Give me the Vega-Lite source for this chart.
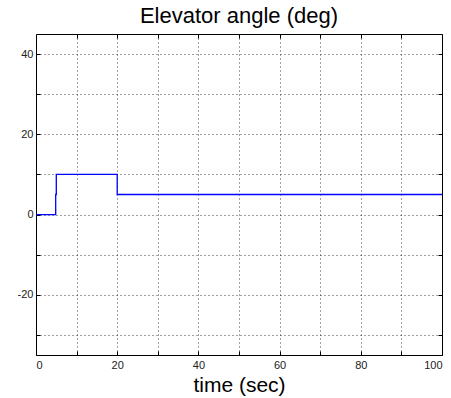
{
  "$schema": "https://vega.github.io/schema/vega-lite/v6.json",
  "autosize": {"type": "none"},
  "padding": {"left": 36, "top": 34, "right": 9, "bottom": 43},
  "width": 406,
  "height": 321,
  "background": "white",
  "config": {
    "font": "Liberation Sans",
    "view": {"stroke": "black", "strokeWidth": 1}
  },
  "title": {
    "text": "Elevator angle (deg)",
    "fontSize": 22,
    "fontWeight": "normal",
    "font": "Liberation Sans",
    "color": "black",
    "offset": 6
  },
  "data": {
    "values": [
      {"i": 0, "t": 0, "angle": 0},
      {"i": 1, "t": 4.85, "angle": 0},
      {"i": 2, "t": 4.85, "angle": 5},
      {"i": 3, "t": 5.0, "angle": 5},
      {"i": 4, "t": 5.0, "angle": 10},
      {"i": 5, "t": 20, "angle": 10},
      {"i": 6, "t": 20, "angle": 5},
      {"i": 7, "t": 100, "angle": 5}
    ]
  },
  "layer": [
    {
      "mark": {"type": "line", "color": "#0000ff", "strokeWidth": 1.3, "clip": true},
      "encoding": {
        "x": {
          "field": "t",
          "type": "quantitative",
          "scale": {"domain": [0, 100], "nice": false, "zero": false},
          "axis": {
            "title": "time (sec)",
            "titleFontSize": 21,
            "titleFontWeight": "normal",
            "titleColor": "black",
            "titlePadding": 4,
            "values": [0, 10, 20, 30, 40, 50, 60, 70, 80, 90, 100],
            "labelExpr": "datum.value % 20 === 0 ? datum.label : ''",
            "labelFontSize": 11,
            "labelColor": "#222",
            "labelPadding": 8,
            "ticks": true,
            "tickSize": -4,
            "tickColor": "black",
            "domain": false,
            "grid": true,
            "gridColor": "black",
            "gridDash": [1, 3],
            "gridWidth": 1,
            "gridOpacity": 0.75
          }
        },
        "y": {
          "field": "angle",
          "type": "quantitative",
          "scale": {"domain": [-35, 45], "nice": false, "zero": false},
          "axis": {
            "title": null,
            "values": [-30, -20, -10, 0, 10, 20, 30, 40],
            "labelExpr": "datum.value % 20 === 0 ? replace(datum.label, '−', '-') : ''",
            "labelFontSize": 11,
            "labelColor": "#222",
            "labelPadding": 7,
            "ticks": true,
            "tickSize": -4,
            "tickColor": "black",
            "domain": false,
            "grid": true,
            "gridColor": "black",
            "gridDash": [1, 3],
            "gridWidth": 1,
            "gridOpacity": 0.75
          }
        },
        "order": {"field": "i", "type": "quantitative"}
      }
    },
    {
      "mark": {"type": "line", "opacity": 0, "clip": true},
      "encoding": {
        "x": {
          "field": "t",
          "type": "quantitative",
          "scale": {"domain": [0, 100], "nice": false, "zero": false},
          "axis": {
            "orient": "top",
            "title": null,
            "labels": false,
            "values": [10, 20, 30, 40, 50, 60, 70, 80, 90],
            "ticks": true,
            "tickSize": -4,
            "tickColor": "black",
            "domain": false,
            "grid": false
          }
        },
        "y": {
          "field": "angle",
          "type": "quantitative",
          "scale": {"domain": [-35, 45], "nice": false, "zero": false},
          "axis": {
            "orient": "right",
            "title": null,
            "labels": false,
            "values": [-30, -20, -10, 0, 10, 20, 30, 40],
            "ticks": true,
            "tickSize": -4,
            "tickColor": "black",
            "domain": false,
            "grid": false
          }
        },
        "order": {"field": "i", "type": "quantitative"}
      }
    }
  ],
  "resolve": {"axis": {"x": "independent", "y": "independent"}}
}
